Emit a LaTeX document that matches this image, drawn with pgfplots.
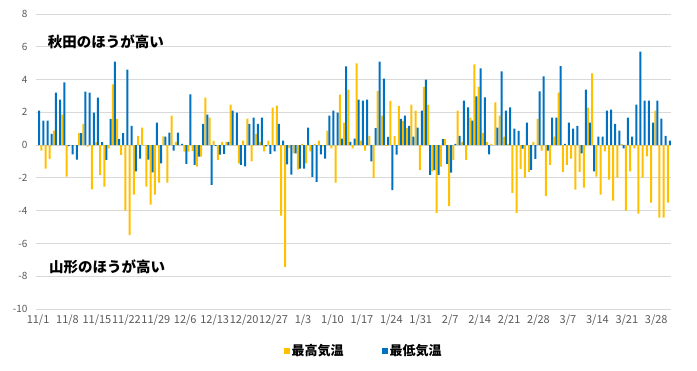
\documentclass[border=0pt]{standalone}
\usepackage{pgfplots}
\usepackage{pgfplotstable}
\pgfplotsset{compat=1.18}
\usepackage{fontspec}
\setmainfont{Noto Sans CJK JP}
\definecolor{cmax}{HTML}{FFC000}
\definecolor{cmin}{HTML}{0070C0}
\definecolor{tickgray}{HTML}{595959}
\definecolor{gridgray}{HTML}{D9D9D9}
\pgfplotstableread{
i Y B
0 0 2.1
1 -0.33 1.49
2 -1.43 1.49
3 -0.84 0.69
4 0.88 3.2
5 0 2.78
6 1.86 3.82
7 -1.92 -0.06
8 0 -0.57
9 0 -0.88
10 0.73 0.73
11 1.3 3.27
12 -0.1 3.2
13 -2.7 1.98
14 0.18 2.9
15 -1.82 0.18
16 -2.53 -0.9
17 -0.2 1.6
18 3.71 5.1
19 1.6 0.37
20 -0.6 0.73
21 -4.0 4.61
22 -5.5 1.18
23 -3.02 -1.61
24 0.57 -0.82
25 1.06 0
26 -2.53 -0.88
27 -3.63 -1.67
28 -3.02 1.37
29 -2.29 -1.12
30 0.53 0.51
31 -2.29 0.76
32 1.8 -0.33
33 0.2 0.76
34 0 0.07
35 -0.4 -1.15
36 -0.4 3.09
37 -0.37 -1.2
38 -1.32 -0.7
39 -0.7 1.3
40 2.9 1.86
41 1.68 -2.43
42 0.26 -0.05
43 -0.9 -0.58
44 0.2 -0.53
45 0.2 0.2
46 2.47 2.1
47 0 1.98
48 -1.12 -1.2
49 0.27 -1.3
50 1.61 1.3
51 -1.0 1.67
52 0.69 1.3
53 0.2 1.67
54 -0.39 -0.08
55 0.27 -0.53
56 2.29 -0.39
57 2.41 1.3
58 -4.3 0.27
59 -7.43 -1.18
60 -0.18 -1.8
61 -0.51 -0.51
62 -1.49 -1.43
63 0.08 -1.43
64 -1.12 1.06
65 -0.39 -1.94
66 0.08 -2.24
67 0.27 -0.57
68 -0.08 -0.82
69 0.88 1.8
70 -0.2 2.1
71 -2.29 1.98
72 3.08 0.39
73 1.37 4.8
74 3.39 0.2
75 -0.2 0.39
76 4.98 2.78
77 0.27 2.71
78 -0.33 2.78
79 0.57 -1.0
80 -2.0 1.04
81 3.3 5.1
82 1.8 4.05
83 -0.05 0.5
84 2.7 -2.74
85 0.55 -0.58
86 2.4 1.6
87 1.48 1.8
88 1.05 1.18
89 2.47 0.51
90 2.1 1.06
91 -1.52 2.1
92 3.56 4.0
93 2.47 -1.82
94 -1.6 -1.52
95 -4.15 -1.82
96 -1.32 0.37
97 0.37 -1.15
98 -3.72 -1.68
99 -0.9 0.07
100 2.1 0.57
101 0.2 2.71
102 -0.9 2.3
103 1.68 1.5
104 4.93 2.97
105 3.56 4.68
106 0.74 2.91
107 0.2 -0.57
108 0.07 0
109 2.6 1.06
110 1.8 4.5
111 0.51 2.1
112 0.07 2.3
113 -2.92 1.0
114 -4.15 0.87
115 -1.45 -0.22
116 -1.99 1.37
117 -1.63 -1.51
118 0.2 -0.84
119 1.6 3.28
120 -0.34 4.2
121 -3.1 -0.34
122 -1.2 1.68
123 0.51 1.68
124 3.2 4.82
125 -1.63 0.07
126 -1.2 1.37
127 -0.83 1.0
128 -2.72 1.18
129 -1.63 -0.51
130 -2.59 3.39
131 2.29 1.37
132 4.37 -1.61
133 -1.92 0.51
134 -3.02 0.51
135 -0.39 2.1
136 -2.1 2.16
137 -3.39 1.3
138 -1.98 0.88
139 0.08 -0.2
140 -4.0 1.67
141 -1.61 0.51
142 -0.2 2.47
143 -4.18 5.71
144 -1.98 2.71
145 -0.69 2.71
146 -3.51 1.37
147 2.1 2.71
148 -4.43 1.61
149 -4.43 0.57
150 -3.51 0.27
}\datatable
\begin{document}
\begin{tikzpicture}
\path[use as bounding box] (0,0) rectangle (697pt,371pt);
\begin{axis}[
  at={(36pt,62pt)}, anchor=south west,
  scale only axis, width=635pt, height=295pt,
  xmin=-0.5, xmax=150.5, ymin=-10, ymax=8,
  ytick={-10,-8,...,8},
  xtick={0,7,...,147},
  xticklabels={11/1,11/8,11/15,11/22,11/29,12/6,12/13,12/20,12/27,1/3,1/10,1/17,1/24,1/31,2/7,2/14,2/21,2/28,3/7,3/14,3/21,3/28},
  axis line style={draw=none},
  major tick length=0pt,
  ymajorgrids, grid style={gridgray, line width=0.8pt},
  /pgf/number format/assume math mode=true,
  tick label style={font=\fontsize{10}{12}\selectfont, text=tickgray},
  xticklabel style={yshift=-2pt, font=\fontsize{11}{13}\selectfont},
  yticklabel style={xshift=-5pt},
  ybar=0pt, bar width=2pt,
  legend style={at={(0.516,-0.142)}, anchor=center, draw=none, fill=none,
    legend columns=2, font=\fontsize{13}{15}\selectfont\bfseries,
    /tikz/every even column/.append style={column sep=36pt}},
  legend image code/.code={\fill[#1] (0pt,-3pt) rectangle (6pt,3pt);},
  clip=false,
]
\addplot[draw=none, fill=cmax] table[x=i, y=Y] {\datatable};
\addlegendentry{最高気温}
\addplot[draw=none, fill=cmin] table[x=i, y=B] {\datatable};
\addlegendentry{最低気温}
\node[anchor=west, inner sep=0pt, font=\fontsize{14.5}{16}\selectfont\bfseries] at (axis cs:2.3,6.29) {秋田のほうが高い};
\node[anchor=west, inner sep=0pt, font=\fontsize{14.5}{16}\selectfont\bfseries] at (axis cs:2.6,-7.45) {山形のほうが高い};
\end{axis}
\end{tikzpicture}
\end{document}
